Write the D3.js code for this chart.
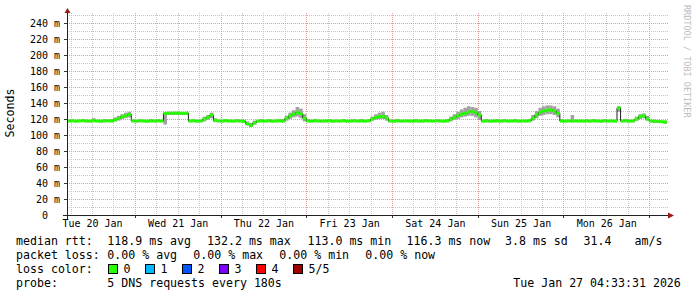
<!DOCTYPE html>
<html>
<head>
<meta charset="utf-8">
<script src="https://cdn.jsdelivr.net/npm/d3@7"></script>
<style>
  body { margin: 0; background: #fff; }
  svg text { font-family: "DejaVu Sans Mono", monospace; white-space: pre; }
</style>
</head>
<body>
<div id="chart"></div>
<script>
// hourly medians (ms), starting Tue 20 Jan 05:00
const median = [
  117.5,117.8,117.2,117.6,118.0,117.4,117.3,117.9,117.5,117.2,117.6,117.8,117.4,119,121,123,124,125.5,117.6,117.3,117.8,117.5,117.2,117.6,
  117.4,117.7,117.5,127,127.3,127.1,127.4,127.2,127,127.3,117.5,117.8,117.3,117.6,120,122,125,118.2,117.6,117.4,117.9,117.5,117.3,117.7,
  117.5,117.2,114,112,115,117.3,117.6,117.4,117.8,117.2,117.5,117.7,117.4,121,124,126,128,126.5,121,117.6,117.3,117.8,117.5,117.4,
  117.5,117.8,117.3,117.6,117.4,117.9,117.2,117.5,117.7,117.4,117.6,117.3,117.8,120,122,123,123.2,121,117.5,117.3,117.7,117.4,117.6,117.5,
  117.4,117.7,117.5,117.3,117.8,117.6,117.4,117.9,117.5,117.3,117.6,120,122,124,126,127,129,129.5,128,125,117.4,117.6,117.3,117.5,
  117.6,117.4,117.8,117.3,117.5,117.7,117.2,117.6,117.4,117.8,121,125,128,130,131,131.2,130,127,117.5,117.3,117.7,117.4,117.6,117.5,
  117.4,117.6,117.3,117.7,117.5,117.2,117.8,117.4,117.6,117.3,134,117.5,117.7,117.3,117.6,120,123,124,120,117.4,117.2,117.0,116.6,116.3
];
const smokeHi = [
  119,120,119,119,120,119,119,121,119,119,120,119,120,122,124,126,128,129,119,119,120,119,119,120,
  119,120,119,128,129,129,129,129,128,129,119,120,119,119,123,125,128,121,119,119,120,119,119,120,
  119,119,117,115,118,119,120,119,120,119,119,120,120,124,128,131,135,133,126,120,119,120,119,119,
  119,120,119,119,119,120,119,119,120,119,120,119,120,123,126,128,129,125,119,119,120,119,119,119,
  119,120,119,119,120,119,119,120,119,119,120,123,126,129,132,134,136,135,134,130,119,120,119,119,
  120,119,120,119,119,120,119,119,119,120,125,130,134,136,137,137,136,133,120,119,119,125,119,119,
  119,120,119,120,119,119,120,119,119,119,136,119,120,119,119,123,126,127,124,119,119,118,118,118
];
const smokeLo = [
  116,116,116,116,116,116,116,116,116,116,116,116,116,117,118,120,121,122,116,116,116,116,116,116,
  116,116,116,113,125,125,125,125,125,125,116,116,116,116,117,119,121,116,116,116,116,116,116,116,
  116,115,112,110,113,116,116,116,116,116,116,116,116,118,120,122,123,121,117,116,116,116,116,116,
  116,116,116,116,116,116,116,116,116,116,116,116,116,118,119,120,120,118,116,116,116,116,116,116,
  116,116,116,116,116,116,116,116,116,116,116,117,119,120,122,123,124,124,122,119,116,116,116,116,
  116,116,116,116,116,116,116,116,116,116,118,121,124,125,126,126,125,122,116,116,116,116,116,116,
  116,116,116,116,116,116,116,116,116,116,129,116,116,116,116,118,120,121,118,116,115,115,115,114
];

const yMajor = [0, 20, 40, 60, 80, 100, 120, 140, 160, 180, 200, 220, 240];
const yMinor = [10, 30, 50, 70, 90, 110, 130, 150, 170, 190, 210, 230, 250];

const lossLabels = ["0", "1", "2", "3", "4", "5/5"];
const lossColors = ["#26ff00", "#00b8ff", "#0059ff", "#7e00ff", "#ff0000", "#a00000"];

const rttLabel = "median rtt:";
const rttItems = ["118.9 ms avg", "132.2 ms max", "113.0 ms min", "116.3 ms now", "3.8 ms sd", "31.4", "am/s"];
const lossLabel = "packet loss:";
const lossItems = ["0.00 % avg", "0.00 % max", "0.00 % min", "0.00 % now"];
const probeText = "5 DNS requests every 180s";
const stampText = "Tue Jan 27 04:33:31 2026";

const W = 697, H = 297;
const plot = { left: 67, right: 667, top: 15, bottom: 215 };
const t0 = Date.UTC(2026, 0, 20, 5);
const hour = 3600e3;
const tAt = i => new Date(t0 + i * hour);

const svg = d3.select("#chart").append("svg")
  .attr("width", W).attr("height", H)
  .style("display", "block");

svg.append("rect").attr("width", W).attr("height", H).attr("fill", "#fff");

const x = d3.scaleUtc()
  .domain([tAt(0), tAt(168)])
  .range([plot.left, plot.right]);
const y = d3.scaleLinear()
  .domain([0, 250])
  .range([plot.bottom, plot.top]);

// grid
const grid = svg.append("g").attr("shape-rendering", "crispEdges").attr("stroke-dasharray", "1,1");
grid.selectAll(".hmin").data(yMinor).enter().append("line")
  .attr("x1", plot.left).attr("x2", plot.right + 1)
  .attr("y1", d => Math.round(y(d)) + 0.5).attr("y2", d => Math.round(y(d)) + 0.5)
  .attr("stroke", "#c4c4c4");
const sixHours = d3.utcHour.every(6).range(tAt(0), tAt(168)).filter(d => d.getUTCHours() !== 0);
grid.selectAll(".vmin").data(sixHours).enter().append("line")
  .attr("x1", d => Math.round(x(d)) + 0.5).attr("x2", d => Math.round(x(d)) + 0.5)
  .attr("y1", plot.top - 2).attr("y2", plot.bottom)
  .attr("stroke", "#c4c4c4");
grid.selectAll(".hmaj").data(yMajor.slice(1)).enter().append("line")
  .attr("x1", plot.left).attr("x2", plot.right + 1)
  .attr("y1", d => Math.round(y(d)) + 0.5).attr("y2", d => Math.round(y(d)) + 0.5)
  .attr("stroke", "#e49a9a");
const days = d3.utcDay.range(tAt(0), tAt(168));
grid.selectAll(".vmaj").data(days).enter().append("line")
  .attr("x1", d => Math.round(x(d)) + 0.5).attr("x2", d => Math.round(x(d)) + 0.5)
  .attr("y1", plot.top - 2).attr("y2", plot.bottom)
  .attr("stroke", "#e49a9a");

// smoke
const idx = d3.range(median.length);
svg.append("g").selectAll("rect").data(idx).enter().append("rect")
  .attr("x", i => x(tAt(i)))
  .attr("width", i => x(tAt(i + 1)) - x(tAt(i)))
  .attr("y", i => y(smokeHi[i]))
  .attr("height", i => y(smokeLo[i]) - y(smokeHi[i]))
  .attr("fill", "#a2a2a2");

// median: dark step line, then loss-coloured segments on top
const pts = idx.map(i => [tAt(i), median[i]]);
pts.push([tAt(median.length), median[median.length - 1]]);
svg.append("path")
  .attr("d", d3.line().x(d => x(d[0])).y(d => y(d[1])).curve(d3.curveStepAfter)(pts))
  .attr("fill", "none").attr("stroke", "#202020").attr("stroke-width", 1);
svg.append("g").selectAll("line").data(idx).enter().append("line")
  .attr("x1", i => x(tAt(i))).attr("x2", i => x(tAt(i + 1)))
  .attr("y1", i => y(median[i])).attr("y2", i => y(median[i]))
  .attr("stroke", lossColors[0]).attr("stroke-width", 3);

// axes
const yAxis = svg.append("g")
  .attr("transform", `translate(${plot.left},0)`)
  .call(d3.axisLeft(y).tickValues(yMajor).tickSize(3).tickPadding(4)
    .tickFormat(d => d === 0 ? "0  " : d + " m"));
yAxis.select(".domain").remove();
yAxis.selectAll("line").attr("stroke", "#333");
yAxis.selectAll("text").attr("font-size", 10).attr("fill", "#000")
  .attr("font-family", "DejaVu Sans Mono");

const noons = days.map(d => d3.utcHour.offset(d, 12)).filter(d => d < tAt(168));
noons.unshift(d3.utcHour.offset(d3.utcDay.floor(tAt(0)), 12));
const xAxis = svg.append("g")
  .attr("transform", `translate(0,${plot.bottom})`)
  .call(d3.axisBottom(x).tickValues(noons).tickSize(0).tickPadding(5)
    .tickFormat(d3.utcFormat("%a %d %b")));
xAxis.select(".domain").remove();
xAxis.selectAll("text").attr("font-size", 10).attr("fill", "#000")
  .attr("font-family", "DejaVu Sans Mono");

svg.append("g").selectAll("line").data(days).enter().append("line")
  .attr("x1", d => Math.round(x(d)) + 0.5).attr("x2", d => Math.round(x(d)) + 0.5)
  .attr("y1", plot.bottom).attr("y2", plot.bottom + 3)
  .attr("stroke", "#333").attr("shape-rendering", "crispEdges");

svg.append("line")
  .attr("x1", plot.left - 4).attr("x2", plot.right + 3)
  .attr("y1", plot.bottom + 0.5).attr("y2", plot.bottom + 0.5)
  .attr("stroke", "#222").attr("shape-rendering", "crispEdges");
svg.append("line")
  .attr("x1", plot.left + 0.5).attr("x2", plot.left + 0.5)
  .attr("y1", plot.bottom + 4).attr("y2", plot.top - 3)
  .attr("stroke", "#222").attr("shape-rendering", "crispEdges");
svg.append("path")
  .attr("d", `M${plot.right + 7},${plot.bottom + 0.5}L${plot.right + 1},${plot.bottom - 2.5}L${plot.right + 1},${plot.bottom + 3.5}Z`)
  .attr("fill", "#9c1a1a");
svg.append("path")
  .attr("d", `M${plot.left + 0.5},${plot.top - 7}L${plot.left - 2.5},${plot.top - 2}L${plot.left + 3.5},${plot.top - 2}Z`)
  .attr("fill", "#9c1a1a");

// labels
svg.append("text")
  .attr("transform", "translate(14,113) rotate(-90)")
  .attr("text-anchor", "middle").attr("font-size", 11.6)
  .text("Seconds");
svg.append("text")
  .attr("transform", "translate(684,5) rotate(90)")
  .attr("font-size", 8.5).attr("fill", "#bcbcbc")
  .text("RRDTOOL / TOBI OETIKER");

// legend
const lg = svg.append("g").attr("font-size", 11.6).attr("fill", "#000");
const rowY = [245, 259, 273, 287];
const rttX = [107.3, 207, 307.5, 406.5, 505, 583.5, 634.5];
const lossX = [107.3, 193.3, 279.3, 365.3];

lg.append("text").attr("x", 16).attr("y", rowY[0]).text(rttLabel);
lg.selectAll(".rtt").data(rttItems).enter().append("text")
  .attr("x", (d, i) => rttX[i]).attr("y", rowY[0]).text(d => d);

lg.append("text").attr("x", 16).attr("y", rowY[1]).text(lossLabel);
lg.selectAll(".loss").data(lossItems).enter().append("text")
  .attr("x", (d, i) => lossX[i]).attr("y", rowY[1]).text(d => d);

lg.append("text").attr("x", 16).attr("y", rowY[2]).text("loss color:");
const boxes = lg.selectAll(".lc").data(lossLabels).enter().append("g");
boxes.append("rect")
  .attr("x", (d, i) => 108.5 + i * 37).attr("y", 264.5)
  .attr("width", 9).attr("height", 9)
  .attr("fill", (d, i) => lossColors[i]).attr("stroke", "#000")
  .attr("shape-rendering", "crispEdges");
boxes.append("text")
  .attr("x", (d, i) => 108 + i * 37 + 15.5).attr("y", rowY[2]).text(d => d);

lg.append("text").attr("x", 16).attr("y", rowY[3]).text("probe:");
lg.append("text").attr("x", 107.3).attr("y", rowY[3]).text(probeText);
lg.append("text").attr("x", 513.3).attr("y", rowY[3]).text(stampText);
</script>
</body>
</html>
